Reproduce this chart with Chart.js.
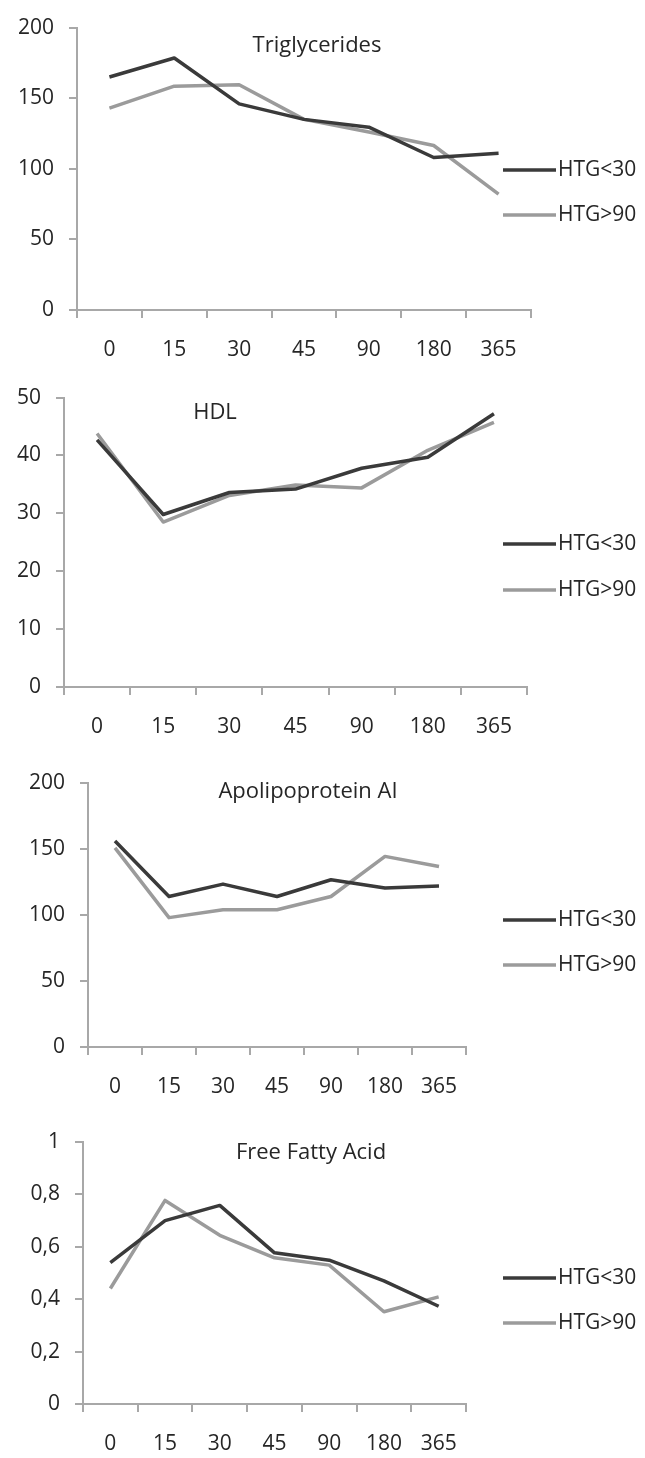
<!DOCTYPE html>
<html>
<head>
<meta charset="utf-8">
<script src="https://cdn.jsdelivr.net/npm/chart.js"></script>
<style>
  html, body { margin:0; padding:0; background:#fff; }
  body { width:645px; height:1458px; position:relative; overflow:hidden; }
  .panel { position:absolute; left:0; width:645px; }
</style>
</head>
<body>
<div class="panel" id="p1"><canvas id="c1"></canvas></div>
<div class="panel" id="p2"><canvas id="c2"></canvas></div>
<div class="panel" id="p3"><canvas id="c3"></canvas></div>
<div class="panel" id="p4"><canvas id="c4"></canvas></div>
<script>
/* =====  data  ===== */
const days = ['0', '15', '30', '45', '90', '180', '365'];
const seriesNames = ['HTG<30', 'HTG>90'];

const tgLow   = [165, 178.5, 146, 135, 129.5, 108, 111];
const tgHigh  = [143, 158.5, 159.5, 135, 126, 116.5, 82];
const hdlLow  = [42.7, 29.8, 33.6, 34.2, 37.8, 39.7, 47.2];
const hdlHigh = [43.8, 28.5, 33.1, 34.9, 34.4, 40.9, 45.7];
const apoLow  = [156, 114, 123.4, 114, 126.7, 120.4, 122];
const apoHigh = [150.8, 98, 104, 104, 114, 144.4, 136.8];
const ffaLow  = [0.54, 0.70, 0.758, 0.577, 0.549, 0.47, 0.373];
const ffaHigh = [0.441, 0.777, 0.644, 0.558, 0.53, 0.352, 0.409];

/* =====  look  ===== */
const DARK = '#3a3a3a', LIGHT = '#9b9b9b', AXIS = '#a8a8a8', TEXT = '#262626';
const FONT = '"Open Sans", "Liberation Sans", sans-serif';

/* panel boxes, page coords: canvas top/height, plot left/right/top/bottom */
const panels = [
  { id:'c1', box:'p1', top:0,    height:375, left:77, right:531, pTop:21,   pBottom:310,  title:'Triglycerides',    titleX:317, titleY:46,   legY:[170, 215],  low:tgLow,  high:tgHigh,  max:200, step:50 },
  { id:'c2', box:'p2', top:370,  height:375, left:64, right:527, pTop:393,  pBottom:687,  title:'HDL',              titleX:215, titleY:413,  legY:[544, 590],  low:hdlLow, high:hdlHigh, max:50,  step:10 },
  { id:'c3', box:'p3', top:750,  height:348, left:88, right:466, pTop:783,  pBottom:1047, title:'Apolipoprotein AI', titleX:308, titleY:792,  legY:[920, 965],  low:apoLow, high:apoHigh, max:200, step:50 },
  { id:'c4', box:'p4', top:1100, height:358, left:83, right:466, pTop:1142, pBottom:1404, title:'Free Fatty Acid',  titleX:311, titleY:1153, legY:[1278, 1323], low:ffaLow, high:ffaHigh, max:1,   step:0.2 }
];

/* title + legend drawn in the plot like the Excel original */
const decoPlugin = {
  id: 'deco',
  afterDraw(chart, args, o) {
    const ctx = chart.ctx;
    ctx.save();
    ctx.fillStyle = TEXT;
    ctx.font = '22px ' + FONT;
    ctx.textAlign = 'center';
    ctx.textBaseline = 'middle';
    ctx.fillText(o.title, o.titleX, o.titleY - o.top);

    ctx.font = '21px ' + FONT;
    ctx.textAlign = 'left';
    chart.data.datasets.forEach((ds, i) => {
      const y = o.legY[i] - o.top;
      ctx.strokeStyle = ds.borderColor;
      ctx.lineWidth = 3.5;
      ctx.beginPath();
      ctx.moveTo(503, y);
      ctx.lineTo(556, y);
      ctx.stroke();
      ctx.fillStyle = TEXT;
      ctx.fillText(ds.label, 558, y);
    });
    ctx.restore();
  }
};

function fmt(v) {
  const r = Math.round(v * 10) / 10;
  return String(r).replace('.', ',');
}

panels.forEach(p => {
  const box = document.getElementById(p.box);
  box.style.top = p.top + 'px';
  box.style.height = p.height + 'px';

  new Chart(document.getElementById(p.id), {
    type: 'line',
    data: {
      labels: days,
      datasets: [
        { label: seriesNames[0], data: p.low,  borderColor: DARK,  borderWidth: 3.5, pointRadius: 0, tension: 0, borderJoinStyle: 'round' },
        { label: seriesNames[1], data: p.high, borderColor: LIGHT, borderWidth: 3.5, pointRadius: 0, tension: 0, borderJoinStyle: 'round' }
      ]
    },
    options: {
      responsive: true,
      maintainAspectRatio: false,
      animation: false,
      events: [],
      layout: { padding: { left: 0, top: p.pTop - p.top, right: 645 - p.right, bottom: 0 } },
      plugins: {
        legend: { display: false },
        title: { display: false },
        tooltip: { enabled: false },
        deco: { title: p.title, titleX: p.titleX, titleY: p.titleY, legY: p.legY, top: p.top }
      },
      scales: {
        x: {
          offset: true,
          grid: { display: true, offset: true, drawOnChartArea: false, drawTicks: true, tickLength: 8, color: AXIS, lineWidth: 2 },
          border: { display: true, color: AXIS, width: 2 },
          ticks: { color: TEXT, font: { family: FONT, size: 21 }, padding: 19, maxRotation: 0, autoSkip: false },
          afterFit: s => { s.height = p.top + p.height - p.pBottom; }
        },
        y: {
          min: 0, max: p.max,
          grid: { display: true, drawOnChartArea: false, drawTicks: true, tickLength: 8, color: AXIS, lineWidth: 2 },
          border: { display: true, color: AXIS, width: 2 },
          ticks: { stepSize: p.step, color: TEXT, font: { family: FONT, size: 21 }, padding: 15, callback: v => fmt(v) },
          afterFit: s => { s.width = p.left; }
        }
      }
    },
    plugins: [decoPlugin]
  });
});
</script>
</body>
</html>
